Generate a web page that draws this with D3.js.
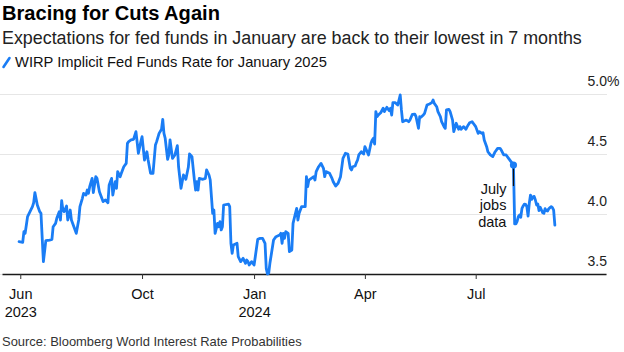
<!DOCTYPE html>
<html><head><meta charset="utf-8">
<script src="https://cdn.jsdelivr.net/npm/d3@7"></script>
<style>
html,body{margin:0;padding:0;background:#fff;}
svg{display:block;font-family:"Liberation Sans", Arial, Helvetica, sans-serif;}
</style></head><body>
<svg id="chart" width="624" height="352"></svg>
<script>
const titleText = "Bracing for Cuts Again";
const subtitleText = "Expectations for fed funds in January are back to their lowest in 7 months";
const seriesName = "WIRP Implicit Fed Funds Rate for January 2025";
const sourceText = "Source: Bloomberg World Interest Rate Probabilities";

const dates = [
"2023-06-22","2023-06-25","2023-06-26","2023-06-27","2023-06-28","2023-06-29","2023-07-01","2023-07-03","2023-07-04","2023-07-05",
"2023-07-07","2023-07-09","2023-07-10","2023-07-12","2023-07-14","2023-07-17","2023-07-19","2023-07-20","2023-07-22","2023-07-23",
"2023-07-25","2023-07-26","2023-07-27","2023-07-28","2023-07-29","2023-07-31","2023-08-01","2023-08-03","2023-08-04","2023-08-08",
"2023-08-10","2023-08-11","2023-08-13","2023-08-14","2023-08-16","2023-08-17","2023-08-18","2023-08-19","2023-08-21","2023-08-22",
"2023-08-24","2023-08-25","2023-08-27","2023-08-29","2023-08-30","2023-09-01","2023-09-03","2023-09-04","2023-09-06","2023-09-07",
"2023-09-09","2023-09-10","2023-09-11","2023-09-13","2023-09-14","2023-09-16","2023-09-18","2023-09-19","2023-09-20","2023-09-22",
"2023-09-24","2023-09-26","2023-09-28","2023-09-30","2023-10-01","2023-10-03","2023-10-05","2023-10-06","2023-10-08","2023-10-10",
"2023-10-12","2023-10-13","2023-10-15","2023-10-17","2023-10-18","2023-10-19","2023-10-20","2023-10-22","2023-10-23","2023-10-24",
"2023-10-26","2023-10-28","2023-10-30","2023-10-31","2023-11-02","2023-11-04","2023-11-05","2023-11-06","2023-11-08","2023-11-09",
"2023-11-11","2023-11-13","2023-11-14","2023-11-15","2023-11-16","2023-11-17","2023-11-20","2023-11-22","2023-11-23","2023-11-25",
"2023-11-26","2023-11-28","2023-11-29","2023-11-30","2023-12-02","2023-12-03","2023-12-04","2023-12-05","2023-12-06","2023-12-07",
"2023-12-11","2023-12-12","2023-12-13","2023-12-14","2023-12-15","2023-12-18","2023-12-19","2023-12-21","2023-12-23","2023-12-25",
"2023-12-26","2023-12-27","2023-12-28","2023-12-30","2024-01-01","2024-01-02","2024-01-04","2024-01-06","2024-01-08","2024-01-10",
"2024-01-11","2024-01-12","2024-01-13","2024-01-14","2024-01-17","2024-01-19","2024-01-22","2024-01-23","2024-01-24","2024-01-25",
"2024-01-26","2024-01-27","2024-01-29","2024-01-30","2024-02-01","2024-02-02","2024-02-04","2024-02-05","2024-02-06","2024-02-07",
"2024-02-09","2024-02-12","2024-02-13","2024-02-14","2024-02-15","2024-02-17","2024-02-19","2024-02-20","2024-02-21","2024-02-23",
"2024-02-25","2024-02-27","2024-02-28","2024-02-29","2024-03-03","2024-03-05","2024-03-06","2024-03-08","2024-03-10","2024-03-12",
"2024-03-14","2024-03-16","2024-03-18","2024-03-20","2024-03-21","2024-03-22","2024-03-24","2024-03-25","2024-03-26","2024-03-27",
"2024-03-29","2024-03-31","2024-04-01","2024-04-02","2024-04-04","2024-04-06","2024-04-07","2024-04-08","2024-04-09","2024-04-10",
"2024-04-11","2024-04-12","2024-04-14","2024-04-16","2024-04-17","2024-04-19","2024-04-21","2024-04-22","2024-04-23","2024-04-24",
"2024-04-26","2024-04-28","2024-04-29","2024-04-30","2024-05-01","2024-05-02","2024-05-05","2024-05-07","2024-05-08","2024-05-10",
"2024-05-12","2024-05-13","2024-05-15","2024-05-16","2024-05-17","2024-05-19","2024-05-20","2024-05-22","2024-05-24","2024-05-26",
"2024-05-27","2024-05-28","2024-05-30","2024-05-31","2024-06-02","2024-06-03","2024-06-05","2024-06-06","2024-06-07","2024-06-09",
"2024-06-10","2024-06-12","2024-06-13","2024-06-15","2024-06-17","2024-06-18","2024-06-19","2024-06-21","2024-06-23","2024-06-24",
"2024-06-26","2024-06-28","2024-06-29","2024-07-01","2024-07-03","2024-07-04","2024-07-06","2024-07-07","2024-07-08","2024-07-10",
"2024-07-11","2024-07-13","2024-07-15","2024-07-17","2024-07-19","2024-07-21","2024-07-22","2024-07-24","2024-07-26","2024-07-28",
"2024-07-30","2024-08-01","2024-08-02","2024-08-03","2024-08-04","2024-08-05","2024-08-06","2024-08-07","2024-08-08","2024-08-09",
"2024-08-10","2024-08-11","2024-08-12","2024-08-13","2024-08-14","2024-08-15","2024-08-16","2024-08-17","2024-08-18","2024-08-19",
"2024-08-20","2024-08-21","2024-08-22","2024-08-23","2024-08-24","2024-08-25","2024-08-26","2024-08-27","2024-08-28","2024-08-29",
"2024-08-30","2024-08-31","2024-09-01","2024-09-02","2024-09-03","2024-09-04"
];
const values = [
3.769,3.764,3.853,3.839,3.908,3.978,4.019,4.061,4.094,4.178,
4.075,4.019,4.006,3.603,3.778,3.783,3.789,3.894,3.922,3.964,
4.019,3.950,4.111,4.033,4.019,4.067,3.950,4.033,3.950,3.839,
3.950,4.061,4.131,4.172,4.158,4.200,4.172,4.228,4.297,4.178,
4.311,4.297,4.186,4.131,4.103,4.117,4.094,4.242,4.297,4.158,
4.269,4.214,4.353,4.311,4.339,4.394,4.422,4.589,4.603,4.617,
4.622,4.686,4.506,4.603,4.644,4.450,4.519,4.450,4.339,4.339,
4.575,4.603,4.672,4.706,4.789,4.672,4.631,4.456,4.492,4.617,
4.464,4.492,4.569,4.394,4.214,4.325,4.311,4.289,4.389,4.500,
4.478,4.283,4.200,4.269,4.200,4.297,4.289,4.297,4.367,4.325,
4.283,4.006,4.033,3.839,3.922,3.894,3.936,3.867,3.894,4.075,
4.083,4.061,3.756,3.672,3.742,3.756,3.644,3.603,3.631,3.589,
3.617,3.603,3.575,3.603,3.575,3.644,3.789,3.797,3.797,3.756,
3.547,3.500,3.506,3.589,3.783,3.811,3.825,3.839,3.756,3.839,
3.797,3.853,3.839,3.686,3.700,3.922,4.006,4.047,3.950,4.006,
4.061,4.061,4.311,4.228,4.283,4.297,4.311,4.283,4.353,4.394,
4.422,4.381,4.311,4.353,4.339,4.297,4.269,4.233,4.256,4.311,
4.464,4.506,4.500,4.381,4.367,4.394,4.400,4.428,4.450,4.492,
4.519,4.500,4.561,4.539,4.492,4.589,4.617,4.631,4.583,4.853,
4.811,4.825,4.844,4.881,4.853,4.889,4.861,4.881,4.825,4.928,
4.928,4.908,4.950,4.992,4.867,4.769,4.783,4.769,4.783,4.831,
4.833,4.811,4.714,4.811,4.806,4.825,4.839,4.908,4.917,4.928,
4.950,4.922,4.894,4.853,4.811,4.769,4.728,4.714,4.867,4.872,
4.853,4.783,4.686,4.756,4.706,4.728,4.706,4.728,4.706,4.728,
4.761,4.769,4.756,4.728,4.672,4.686,4.672,4.678,4.617,4.561,
4.519,4.492,4.478,4.519,4.547,4.547,4.533,4.492,4.492,4.464,
4.436,4.408,3.917,3.917,3.939,3.978,3.992,3.972,4.047,4.067,
4.083,4.081,4.061,3.983,4.089,4.158,4.122,4.144,4.147,4.117,
4.075,4.083,4.028,4.056,4.033,4.011,4.006,4.044,4.028,4.025,
4.044,4.053,4.061,4.053,4.033,3.908
];

const yTicks = [3.5, 4.0, 4.5, 5.0];
const xTickDates = ["2023-06-23","2023-10-01","2024-01-01","2024-04-01","2024-07-01"];
const xTickMonths = ["Jun","Oct","Jan","Apr","Jul"];
const xTickYears = ["2023","","2024","",""];
const xDomain = ["2023-06-08","2024-10-16"];
const annotationDate = "2024-08-01";
const annotationLines = ["July","jobs","data"];

const parse = d3.timeParse("%Y-%m-%d");
const data = dates.map((d,i)=>({date:parse(d), value:values[i]}));

const svg = d3.select("#chart");
const blue = "#1a7df5";

const x = d3.scaleTime().domain(xDomain.map(parse)).range([2, 606]);
const y = d3.scaleLinear().domain([3.5, 5.0]).range([274, 94]);

function fit(sel, target){
  const w = sel.node().getComputedTextLength();
  const fs = parseFloat(sel.attr("font-size"));
  if (w > 0) sel.attr("font-size", (fs*target/w).toFixed(2));
}

// Titles
const t = svg.append("text").attr("x",2).attr("y",20).attr("font-size",18).attr("font-weight",700).attr("fill","#000").text(titleText);
fit(t, 218);
const st = svg.append("text").attr("x",2).attr("y",44).attr("font-size",17).attr("fill","#222").text(subtitleText);
fit(st, 580);
// legend
svg.append("line").attr("x1",3.5).attr("y1",67).attr("x2",9.5).attr("y2",58)
  .attr("stroke",blue).attr("stroke-width",2.6).attr("stroke-linecap","round");
const lg = svg.append("text").attr("x",15).attr("y",67).attr("font-size",14).attr("fill","#111").text(seriesName);
fit(lg, 312);

// Y grid + labels
const yAxis = svg.append("g").attr("transform","translate(607,0)")
  .call(d3.axisLeft(y).tickValues(yTicks).tickSize(607).tickFormat(d=>d.toFixed(1)));
yAxis.select(".domain").remove();
yAxis.selectAll(".tick line").attr("stroke","#e6e6e6").attr("stroke-width",1);
yAxis.selectAll(".tick text").attr("x",0).attr("dy",-9).attr("text-anchor","end")
  .attr("font-size",14).attr("fill","#222").attr("font-family",null);
yAxis.selectAll(".tick").filter(d=>d===5.0).append("text")
  .attr("x",0).attr("dy",-9).attr("text-anchor","start").attr("font-size",14).attr("fill","#222").text("%");

// X axis
const xAxis = svg.append("g").attr("transform","translate(0,274)")
  .call(d3.axisBottom(x).tickValues(xTickDates.map(parse)).tickSize(5).tickSizeOuter(0)
    .tickFormat((d,i)=>xTickMonths[i]));
xAxis.select(".domain").attr("stroke","#1a1a1a").attr("stroke-width",1.5);
xAxis.selectAll(".tick line").attr("stroke","#333").attr("stroke-width",1);
xAxis.selectAll(".tick text").attr("font-size",14.5).attr("fill","#111").attr("font-family",null)
  .attr("y",0).attr("dy",null)
  .each(function(d,i){
    const el = d3.select(this);
    el.text(null);
    el.append("tspan").attr("x",0).attr("y",24.5).text(xTickMonths[i]);
    if (xTickYears[i]) el.append("tspan").attr("x",0).attr("y",43).text(xTickYears[i]);
  });

// Line
const line = d3.line().x(d=>x(d.date)).y(d=>y(d.value));
svg.append("path").datum(data).attr("d",line).attr("fill","none")
  .attr("stroke",blue).attr("stroke-width",2.8).attr("stroke-linejoin","round").attr("stroke-linecap","round");

// Annotation
const ad = data.find(d=>+d.date===+parse(annotationDate));
const ax = x(ad.date), ay = y(ad.value);
svg.append("line").attr("x1",ax).attr("x2",ax).attr("y1",ay).attr("y2",ay+21)
  .attr("stroke","#111").attr("stroke-width",1.2);
svg.append("circle").attr("cx",ax).attr("cy",ay).attr("r",3.6).attr("fill",blue);
const at = svg.append("text").attr("font-size",14.5).attr("fill","#111").attr("text-anchor","end");
annotationLines.forEach((s,i)=>{
  at.append("tspan").attr("x",ax-7).attr("y",ay+29+i*16.3).text(s);
});

// Source
const src = svg.append("text").attr("x",2).attr("y",346).attr("font-size",13).attr("fill","#333").text(sourceText);
fit(src, 300);
</script>
</body></html>
